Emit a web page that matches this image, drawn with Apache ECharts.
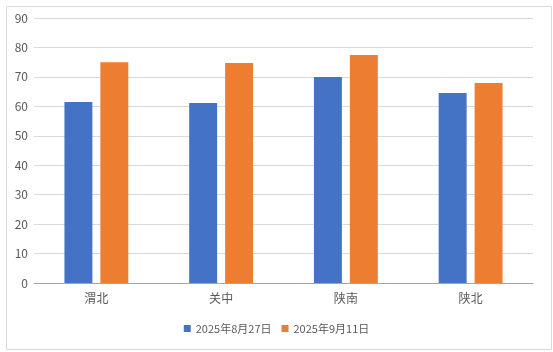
<!DOCTYPE html>
<html><head><meta charset="utf-8">
<script src="https://cdn.jsdelivr.net/npm/echarts@6/dist/echarts.min.js"></script>
<style>html,body{margin:0;padding:0;background:#fff}#c{width:553px;height:352px}</style>
</head><body><div id="c"></div>
<script>
const categories = ['渭北', '关中', '陕南', '陕北'];
const seriesNames = ['2025年8月27日', '2025年9月11日'];
const valuesAug27 = [61.5, 61.1, 70.0, 64.5];
const valuesSep11 = [75.0, 74.7, 77.4, 67.9];
const yTicks = { min: 0, max: 90, interval: 10 };

const chart = echarts.init(document.getElementById('c'), null, {renderer: 'canvas'});
const font = '"Noto Sans CJK SC", "Microsoft YaHei", sans-serif';
chart.setOption({
  animation: false,
  textStyle: { fontFamily: font },
  graphic: [{
    type: 'rect', left: 4, top: 4, silent: true,
    shape: { width: 545, height: 343 },
    style: { fill: 'none', stroke: '#d9d9d9', lineWidth: 1 }
  }],
  grid: { left: 34, right: 20, top: 18, bottom: 69, containLabel: false },
  legend: {
    data: seriesNames, bottom: 13, left: 'center',
    itemWidth: 7, itemHeight: 7, itemGap: 10,
    icon: 'rect',
    textStyle: { color: '#595959', fontSize: 11, fontFamily: font }
  },
  xAxis: {
    type: 'category', data: categories,
    axisLine: { lineStyle: { color: '#a6a6a6' } },
    axisTick: { show: false },
    axisLabel: { color: '#595959', fontSize: 12, margin: 9, fontFamily: font }
  },
  yAxis: {
    type: 'value', min: yTicks.min, max: yTicks.max, interval: yTicks.interval,
    axisLine: { show: false }, axisTick: { show: false },
    splitLine: { lineStyle: { color: '#d9d9d9' } },
    axisLabel: { color: '#595959', fontSize: 12, margin: 6, fontFamily: font }
  },
  series: [
    { name: seriesNames[0], type: 'bar', data: valuesAug27, barWidth: '22.4%', barGap: '28.6%',
      itemStyle: { color: '#4472c4' } },
    { name: seriesNames[1], type: 'bar', data: valuesSep11, barWidth: '22.4%', barGap: '28.6%',
      itemStyle: { color: '#ed7d31' } }
  ]
});
</script></body></html>
